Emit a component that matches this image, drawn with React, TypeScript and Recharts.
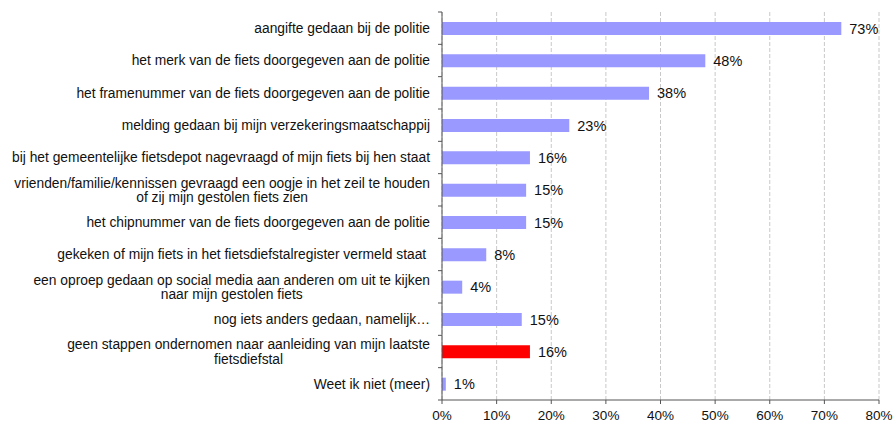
import React from 'react';
import { BarChart, Bar, XAxis, YAxis, CartesianGrid, Cell, LabelList } from 'recharts';

const categories = [
  'aangifte gedaan bij de politie',
  'het merk van de fiets doorgegeven aan de politie',
  'het framenummer van de fiets doorgegeven aan de politie',
  'melding gedaan bij mijn verzekeringsmaatschappij',
  'bij het gemeentelijke fietsdepot nagevraagd of mijn fiets bij hen staat',
  'vrienden/familie/kennissen gevraagd een oogje in het zeil te houden\nof zij mijn gestolen fiets zien',
  'het chipnummer van de fiets doorgegeven aan de politie',
  'gekeken of mijn fiets in het fietsdiefstalregister vermeld staat ',
  'een oproep gedaan op social media aan anderen om uit te kijken\nnaar mijn gestolen fiets',
  'nog iets anders gedaan, namelijk…',
  'geen stappen ondernomen naar aanleiding van mijn laatste\nfietsdiefstal',
  'Weet ik niet (meer)',
];
const values = [73.1, 48.2, 37.9, 23.3, 16.1, 15.4, 15.4, 8.1, 3.7, 14.6, 16.1, 0.7];
const highlighted = 'geen stappen ondernomen naar aanleiding van mijn laatste\nfietsdiefstal';
const xTicks = [0, 10, 20, 30, 40, 50, 60, 70, 80];

const data = categories.map((name, i) => ({ name, value: values[i] }));

const W = 894;
const H = 423;
const MARGIN = { top: 12, right: 15, bottom: 0, left: 0 };
const X_AXIS_H = 23;
const FONT = '"Liberation Sans", Arial, sans-serif';
const LABEL_FS = 13.8;
const band = (H - MARGIN.top - MARGIN.bottom - X_AXIS_H) / categories.length;

let ctx: CanvasRenderingContext2D | null = null;
const measure = (s: string) => {
  if (!ctx) ctx = document.createElement('canvas').getContext('2d');
  if (!ctx) return s.length * 6;
  ctx.font = `${LABEL_FS}px "Liberation Sans"`;
  return ctx.measureText(s).width;
};

const CategoryTick = (props: any) => {
  const { x, y, payload, index } = props;
  const lines = String(payload.value).split('\n');
  const w0 = measure(lines[0]);
  const lineH = 14.5;
  return (
    <g>
      {lines.map((ln, i) => (
        <text
          key={i}
          x={i === 0 ? x : x - w0 / 2}
          y={y + (i - (lines.length - 1) / 2) * lineH + LABEL_FS * 0.36}
          textAnchor={i === 0 ? 'end' : 'middle'}
          fontSize={LABEL_FS}
          fontFamily={FONT}
          fill="#111"
          style={{ whiteSpace: 'pre' }}
        >
          {ln}
        </text>
      ))}
      <line x1={x + 8} x2={x + 12} y1={y - band / 2} y2={y - band / 2} stroke="#555" />
      {index === categories.length - 1 ? (
        <line x1={x + 8} x2={x + 12} y1={y + band / 2} y2={y + band / 2} stroke="#555" />
      ) : null}
    </g>
  );
};

export default function App() {
  return (
    <div style={{ position: 'absolute', left: 0, top: 0, background: '#fff' }}>
      <BarChart width={W} height={H} data={data} layout="vertical" margin={MARGIN}>
        <CartesianGrid horizontal={false} stroke="#c8c8c8" strokeDasharray="4 2" />
        <XAxis
          type="number"
          domain={[0, 80]}
          ticks={xTicks}
          tickFormatter={(v: number) => `${v}%`}
          height={X_AXIS_H}
          axisLine={{ stroke: '#555' }}
          tickLine={{ stroke: '#555' }}
          tickSize={4}
          tickMargin={6}
          tick={{ fontSize: 13.5, fontFamily: FONT, fill: '#111' }}
          interval={0}
        />
        <YAxis
          type="category"
          dataKey="name"
          width={442}
          axisLine={{ stroke: '#555' }}
          tickLine={false}
          tickSize={4}
          tickMargin={8}
          tick={<CategoryTick />}
          interval={0}
        />
        <Bar dataKey="value" barSize={13} isAnimationActive={false}>
          {data.map((d, i) => (
            <Cell key={i} fill={d.name === highlighted ? '#ff0000' : '#9999ff'} />
          ))}
          <LabelList
            dataKey="value"
            position="right"
            offset={8}
            formatter={(v: any) => `${Math.round(Number(v))}%`}
            style={{ fontSize: 14.5, fontFamily: FONT, fill: '#111' }}
          />
        </Bar>
      </BarChart>
    </div>
  );
}
